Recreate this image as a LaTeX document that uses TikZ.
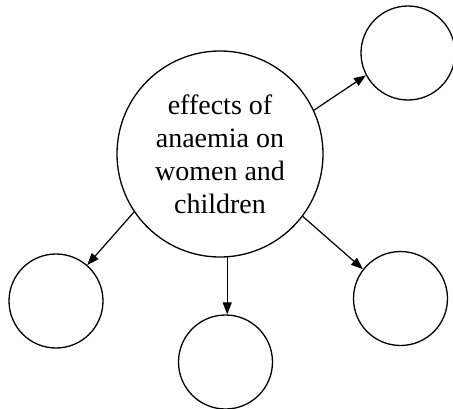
\documentclass[tikz,border=0pt]{standalone}
\usepackage{fontspec}
\setmainfont{Liberation Serif}
\usetikzlibrary{arrows.meta}
\begin{document}
\begin{tikzpicture}[x=1pt,y=-1pt,
  bubble/.style={draw,circle,line width=1.3pt,inner sep=0pt,minimum size=94pt},
  hub/.style={draw,circle,line width=1.3pt,inner sep=0pt,minimum size=206pt,
    align=center,font=\fontsize{28pt}{33pt}\selectfont},
  link/.style={line width=1.2pt,-{Triangle[length=12pt,width=9pt]}}]
\useasboundingbox (0,0) rectangle (453,408);
\node[hub] (c) at (220,154) {effects of\\anaemia on\\women and\\children};
\node[bubble] (tr) at (408,53) {};
\node[bubble] (bl) at (56,301) {};
\node[bubble] (bm) at (225.5,362) {};
\node[bubble] (rt) at (400.5,298.5) {};
\draw[link] (c.25.6) -- (tr.208);
\draw[link] (c.214) -- (bl.49);
\draw[link] (c.274) -- (c.274 |- bm.north);
\draw[link] (c.-37) -- (rt.142);
\end{tikzpicture}
\end{document}
